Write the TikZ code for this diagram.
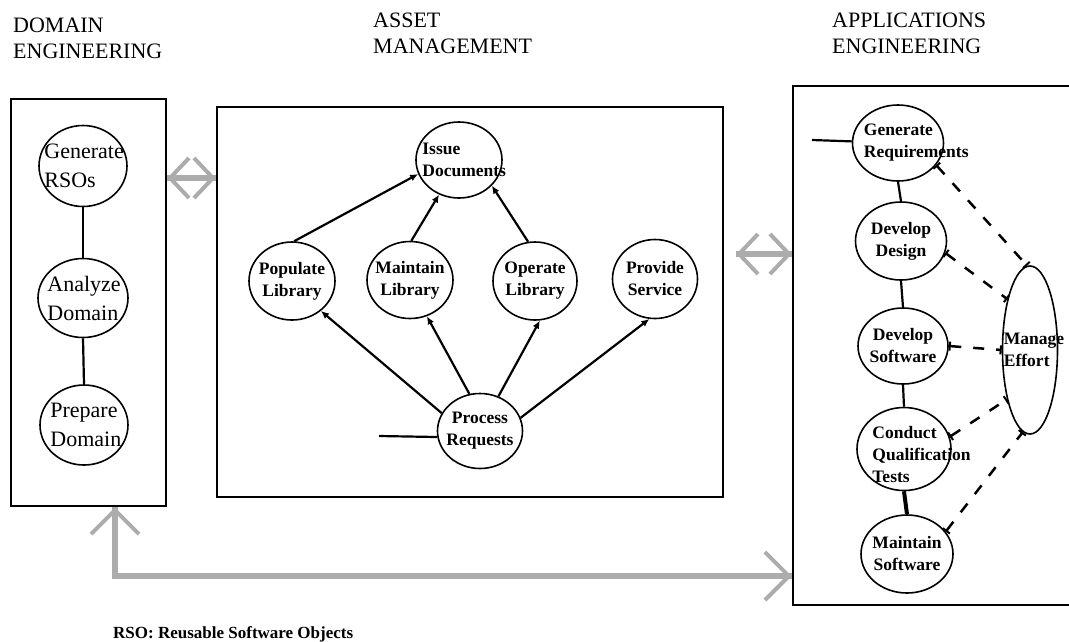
\documentclass[tikz,border=0pt]{standalone}
\usepackage{fontspec}
\setmainfont{Liberation Serif}
\usetikzlibrary{arrows.meta, positioning, shapes.geometric}

\tikzset{
  panel/.style={draw, line width=2.5pt, inner sep=0pt},
  task/.style={draw, ellipse, line width=1.6pt, inner sep=0pt},
  lab/.style={font=\bfseries\fontsize{17.5}{22}\selectfont, align=center, inner sep=0pt},
  rlab/.style={font=\fontsize{22}{29}\selectfont, align=left, inner sep=0pt},
  head/.style={font=\fontsize{22}{26}\selectfont, align=left, inner sep=0pt, anchor=north west},
  flow/.style={line width=2.2pt, -{Latex[length=8pt,width=7pt]}},
  link/.style={line width=2.2pt},
  effort/.style={line width=2.5pt, dash pattern=on 11pt off 12pt, {Bar[width=9pt,line width=2pt]}-{Bar[width=9pt,line width=2pt]}},
  hatchline/.style={draw=gray!65, line width=6pt},
  hatcharrow/.style={draw=gray!65, line width=4pt, >={Straight Barb[length=19pt,width=40pt,line width=4pt]}}
}

\begin{document}
\begin{tikzpicture}[x=1pt, y=-1pt]
\useasboundingbox (0,0) rectangle (1069,641);

% the three areas
\node[panel, minimum width=155pt, minimum height=407pt] (domainbox) at (88.5,302.5) {};
\node[panel, minimum width=506pt, minimum height=390pt] (assetbox) at (470,302) {};
\node[panel, minimum width=290pt, minimum height=519pt] (appbox) at (938,345.5) {};

\node[head] (domhead) at (13,18) {DOMAIN\\ENGINEERING};
\node[head] (assethead) at (373,13) {ASSET\\MANAGEMENT};
\node[head] (apphead) at (832,13) {APPLICATIONS\\ENGINEERING};

% domain engineering
\node[task, minimum width=88pt, minimum height=81pt,
  label={[rlab, anchor=west, xshift=6pt]west:Generate\\RSOs}] (genrso) at (83,166) {};
\node[task, minimum width=90pt, minimum height=79pt,
  label={[rlab, anchor=west, xshift=10pt]west:Analyze\\Domain}] (analyze) at (83,298) {};
\node[task, minimum width=88pt, minimum height=80pt,
  label={[rlab, anchor=west, xshift=11pt]west:Prepare\\Domain}] (prepare) at (84,425) {};

\draw[link] (genrso.south) -- (analyze.north);
\draw[link] (analyze.south) -- (prepare.north);

% asset management
\node[task, minimum width=86pt, minimum height=76pt,
  label={[lab, align=left, anchor=west, xshift=7pt]west:Issue\\Documents}] (issue) at (459,160) {};
\node[task, minimum width=86pt, minimum height=78pt, label={[lab]center:Populate\\Library}] (poplib) at (292,281) {};
\node[task, minimum width=86pt, minimum height=77pt, label={[lab]center:Maintain\\Library}] (mainlib) at (410,280) {};
\node[task, minimum width=84pt, minimum height=78pt, label={[lab]center:Operate\\Library}] (oplib) at (535,281) {};
\node[task, minimum width=85pt, minimum height=79pt, label={[lab]center:Provide\\Service}] (provide) at (655,279) {};
\node[task, minimum width=85pt, minimum height=75pt, label={[lab]center:Process\\Requests}] (process) at (480,431) {};
\coordinate (reqin) at (379,436);

\draw[flow] (poplib.87) -- (issue.199);
\draw[flow] (mainlib.88) -- (issue.240);
\draw[flow] (oplib.100) -- (issue.-38);
\draw[flow] (process.155) -- (poplib.-46);
\draw[flow] (process.106) -- (mainlib.-65);
\draw[flow] (process.62) -- (oplib.-83);
\draw[flow] (process.18) -- (provide.262);
\draw[link] (reqin) -- (process.188);

% applications engineering
\node[task, minimum width=91pt, minimum height=76pt,
  label={[lab, align=left, anchor=west, xshift=12pt]west:Generate\\Requirements}] (genreq) at (898,143) {};
\node[task, minimum width=91pt, minimum height=78pt, label={[lab]center:Develop\\Design}] (devdesign) at (901,241) {};
\node[task, minimum width=90pt, minimum height=76pt, label={[lab]center:Develop\\Software}] (devsoft) at (903,346) {};
\node[task, minimum width=94pt, minimum height=83pt,
  label={[lab, align=left, anchor=west, xshift=16pt, yshift=-6pt]west:Conduct\\Qualification\\Tests}] (conduct) at (904,449) {};
\node[task, minimum width=92pt, minimum height=78pt, label={[lab]center:Maintain\\Software}] (maintsoft) at (907,554) {};
\node[task, minimum width=55pt, minimum height=168pt,
  label={[lab, align=left, anchor=west, xshift=2pt]west:Manage\\Effort}] (manage) at (1030,350) {};
\coordinate (needin) at (812,140);

\draw[link] (needin) -- (genreq.178);
\draw[link] (genreq.south) -- (devdesign.north);
\draw[link] (devdesign.south) -- (devsoft.north);
\draw[link] (devsoft.south) -- (conduct.north);
\draw[link, line width=4pt] (conduct.south) -- (maintsoft.north);

\draw[effort] (genreq.-30) -- (manage.92);
\draw[effort] (devdesign.-15) -- (manage.114);
\draw[effort] (devsoft.east) -- (manage.west);
\draw[effort] (conduct.15) -- (manage.245);
\draw[effort] (maintsoft.30) -- (manage.265);

% exchanges between the areas
\coordinate (dalevel) at (0,178);
\coordinate (aalevel) at (0,254);
\coordinate (rsobend) at (115,576);
\draw[hatchline] (domainbox.east |- dalevel) -- (assetbox.west |- dalevel);
\draw[hatcharrow, <->] (domainbox.east |- dalevel) -- (assetbox.west |- dalevel);
\draw[hatchline, shorten <=12pt] (assetbox.east |- aalevel) -- (appbox.west |- aalevel);
\draw[hatcharrow, <->, shorten <=12pt] (assetbox.east |- aalevel) -- (appbox.west |- aalevel);
\draw[hatchline] (rsobend |- domainbox.south) -- (rsobend) -- (rsobend -| appbox.west);
\draw[hatcharrow, <->, >={Straight Barb[length=24pt,width=48pt,line width=4pt]}]
  (rsobend |- domainbox.south) -- (rsobend) -- (rsobend -| appbox.west);

\node[font=\bfseries\fontsize{17}{20}\selectfont, anchor=base west, inner sep=0pt] (rsonote) at (113,638) {RSO: Reusable Software Objects};

\end{tikzpicture}
\end{document}
